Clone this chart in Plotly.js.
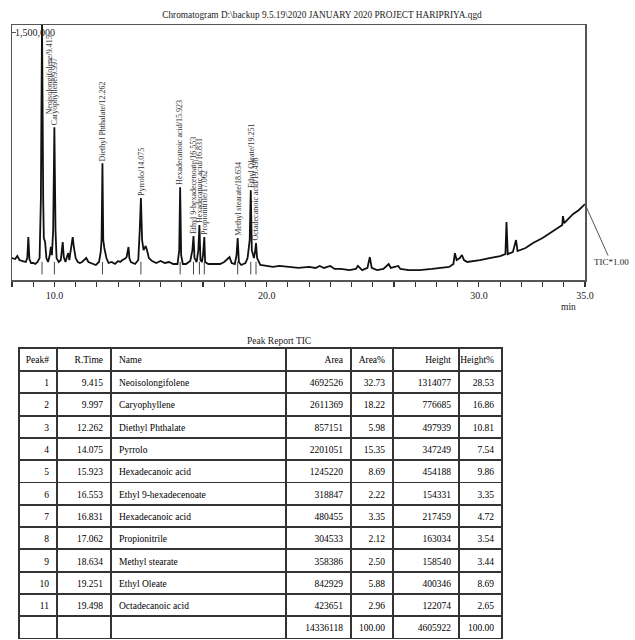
<!DOCTYPE html>
<html>
<head>
<meta charset="utf-8">
<script src="https://cdn.plot.ly/plotly-3.0.1.min.js"></script>
<style>html,body{margin:0;padding:0;background:#fff;}#chart{width:635px;height:640px;}</style>
</head>
<body>
<div id="chart"></div>
<script>
// ---- chromatogram trace (retention time, min / intensity, counts) ----
const ticTime = [
  8.00, 8.15, 8.25, 8.35, 8.50, 8.65, 8.72, 8.77, 8.82, 8.90, 9.00, 9.10, 9.20, 9.30, 9.36, 9.415, 9.47, 9.50, 9.56, 9.62,
  9.70, 9.78, 9.83, 9.88, 9.94, 9.997, 10.05, 10.10, 10.20, 10.30, 10.35, 10.39, 10.44, 10.52, 10.60, 10.65, 10.70, 10.76, 10.81, 10.86,
  10.92, 11.00, 11.10, 11.20, 11.30, 11.45, 11.50, 11.60, 11.80, 11.95, 12.10, 12.18, 12.22, 12.262, 12.30, 12.35, 12.45, 12.55, 12.70, 12.85,
  13.00, 13.10, 13.20, 13.30, 13.40, 13.45, 13.49, 13.53, 13.60, 13.80, 13.95, 14.02, 14.075, 14.13, 14.20, 14.30, 14.35, 14.45, 14.60, 14.80,
  15.00, 15.20, 15.40, 15.60, 15.80, 15.88, 15.923, 15.97, 16.05, 16.20, 16.40, 16.50, 16.553, 16.60, 16.70, 16.78, 16.831, 16.88, 16.95, 17.00,
  17.062, 17.10, 17.25, 17.50, 17.80, 18.00, 18.20, 18.25, 18.35, 18.50, 18.58, 18.634, 18.69, 18.80, 19.00, 19.10, 19.20, 19.251, 19.30, 19.40,
  19.45, 19.498, 19.55, 19.70, 20.00, 20.30, 20.60, 21.00, 21.50, 22.00, 22.30, 22.50, 22.70, 23.00, 23.20, 23.50, 23.90, 24.20, 24.30, 24.50,
  24.75, 24.86, 24.95, 25.20, 25.50, 25.75, 25.85, 26.20, 26.30, 26.70, 27.20, 27.80, 28.30, 28.60, 28.80, 28.87, 28.95, 29.10, 29.20, 29.30,
  29.45, 29.80, 30.05, 30.50, 31.00, 31.25, 31.30, 31.36, 31.60, 31.75, 31.82, 32.20, 32.55, 33.00, 33.35, 33.80, 33.93, 33.96, 34.02, 34.43,
  34.70, 35.00
];
const ticIntensity = [
  133000, 127000, 145000, 121000, 115000, 109000, 133000, 260000, 127000, 103000, 103000, 97000, 109000, 133000, 484000, 1572000, 484000, 254000, 230000, 133000,
  109000, 151000, 200000, 151000, 302000, 925000, 302000, 133000, 109000, 121000, 181000, 230000, 139000, 109000, 145000, 163000, 121000, 181000, 212000, 260000,
  194000, 133000, 109000, 103000, 109000, 127000, 133000, 109000, 97000, 91000, 109000, 169000, 242000, 708000, 242000, 194000, 133000, 103000, 109000, 97000,
  115000, 109000, 121000, 127000, 139000, 181000, 200000, 133000, 109000, 97000, 121000, 302000, 496000, 242000, 181000, 206000, 187000, 133000, 115000, 103000,
  115000, 103000, 109000, 97000, 97000, 181000, 562000, 151000, 97000, 97000, 115000, 181000, 266000, 133000, 109000, 181000, 333000, 121000, 109000, 151000,
  260000, 109000, 97000, 97000, 97000, 109000, 133000, 139000, 103000, 97000, 151000, 254000, 109000, 91000, 103000, 133000, 242000, 544000, 181000, 133000,
  169000, 224000, 133000, 91000, 85000, 79000, 85000, 79000, 73000, 79000, 73000, 85000, 73000, 85000, 67000, 67000, 60000, 67000, 85000, 60000,
  73000, 139000, 73000, 60000, 67000, 97000, 73000, 85000, 67000, 60000, 60000, 67000, 73000, 79000, 97000, 163000, 121000, 133000, 151000, 121000,
  109000, 115000, 121000, 133000, 145000, 157000, 351000, 157000, 169000, 242000, 175000, 194000, 224000, 254000, 284000, 321000, 333000, 387000, 345000, 399000,
  423000, 460000
];

// ---- identified peaks ----
const peakNo = [1, 2, 3, 4, 5, 6, 7, 8, 9, 10, 11];
const peakTime = [9.415, 9.997, 12.262, 14.075, 15.923, 16.553, 16.831, 17.062, 18.634, 19.251, 19.498];
const peakName = ["Neoisolongifolene", "Caryophyllene", "Diethyl Phthalate", "Pyrrolo", "Hexadecanoic acid",
  "Ethyl 9-hexadecenoate", "Hexadecanoic acid", "Propionitrile", "Methyl stearate", "Ethyl Oleate", "Octadecanoic acid"];
const peakApex = [1572000, 925000, 708000, 496000, 562000, 266000, 333000, 260000, 254000, 544000, 224000];
const peakArea = [4692526, 2611369, 857151, 2201051, 1245220, 318847, 480455, 304533, 358386, 842929, 423651];
const peakAreaPct = [32.73, 18.22, 5.98, 15.35, 8.69, 2.22, 3.35, 2.12, 2.50, 5.88, 2.96];
const peakHeight = [1314077, 776685, 497939, 347249, 454188, 154331, 217459, 163034, 158540, 400346, 122074];
const peakHeightPct = [28.53, 16.86, 10.81, 7.54, 9.86, 3.35, 4.72, 3.54, 3.44, 8.69, 2.65];
const totalArea = 14336118, totalAreaPct = 100.00, totalHeight = 4605922, totalHeightPct = 100.00;
// level of the small peak-marker ticks drawn under each identified peak
const peakMarkLevel = 72000;

// ---- axis labels ----
const xTickVals = [10, 20, 30, 35];
const xTickText = ["10.0", "20.0", "30.0", "35.0"];
const yTickVals = [1500000];
const yTickText = ["1,500,000"];
const headers = ["Peak#", "R.Time", "Name", "Area", "Area%", "Height", "Height%"];

const W = 635, H = 640;
const serif = "Liberation Serif, Times New Roman, serif";
const px = (x) => x / W, py = (y) => 1 - y / H;

// every whole minute gets a tick, only the listed ones a label
const allTickVals = [], allTickText = [];
for (let m = 8; m <= 35; m++) {
  allTickVals.push(m);
  const k = xTickVals.indexOf(m);
  allTickText.push(k >= 0 ? xTickText[k] : "");
}

const annotations = [];
// y tick label drawn inside the frame
yTickVals.forEach((v, i) => {
  annotations.push({x: 0, xref: "x domain", y: v, yref: "y", text: yTickText[i], showarrow: false,
    xanchor: "left", yanchor: "middle", xshift: 1,
    font: {family: serif, size: 10, color: "#222"}});
});
peakTime.forEach((t, i) => {
  const txt = peakName[i] + "/" + t.toFixed(3);
  if (i === 0) {
    annotations.push({x: t, xref: "x", y: py(34), yref: "paper", text: txt, textangle: -90,
      xanchor: "center", yanchor: "top", xshift: 7, showarrow: false,
      font: {family: serif, size: 8, color: "#333"}});
  } else {
    annotations.push({x: t, xref: "x", y: peakApex[i], yref: "y", text: txt, textangle: -90,
      xanchor: "center", yanchor: "bottom", showarrow: false,
      font: {family: serif, size: 8, color: "#333"}});
  }
});
annotations.push({x: ticTime[ticTime.length - 1], y: ticIntensity[ticIntensity.length - 1], xref: "x", yref: "y",
  text: "TIC*1.00", showarrow: true, arrowhead: 0, arrowwidth: 1, arrowcolor: "#555", ax: 26, ay: 58,
  font: {family: serif, size: 9, color: "#222"}});
annotations.push({x: px(578), y: py(307), xref: "paper", yref: "paper", text: "min", showarrow: false,
  font: {family: serif, size: 9.5, color: "#222"}});
annotations.push({x: px(279), y: py(341), xref: "paper", yref: "paper", text: "Peak Report TIC", showarrow: false,
  font: {family: serif, size: 9.5, color: "#222"}});

const chromTrace = {
  type: "scatter", mode: "lines", x: ticTime, y: ticIntensity,
  line: {color: "#111", width: 1.8}, hoverinfo: "skip", xaxis: "x", yaxis: "y"
};
const markTrace = {
  type: "scatter", mode: "markers", x: peakTime, y: peakTime.map(() => peakMarkLevel),
  marker: {symbol: "line-ns-open", size: 9, color: "#444", line: {color: "#444", width: 1}},
  hoverinfo: "skip", xaxis: "x", yaxis: "y"
};

const rowPeak = peakNo.map(String).concat([""]);
const rowTime = peakTime.map(v => v.toFixed(3)).concat([""]);
const rowName = peakName.concat([""]);
const rowArea = peakArea.map(String).concat([String(totalArea)]);
const rowAreaPct = peakAreaPct.map(v => v.toFixed(2)).concat([totalAreaPct.toFixed(2)]);
const rowHeight = peakHeight.map(String).concat([String(totalHeight)]);
const rowHeightPct = peakHeightPct.map(v => v.toFixed(2)).concat([totalHeightPct.toFixed(2)]);

const tableTrace = {
  type: "table",
  domain: {x: [px(19), px(502)], y: [0, py(348)]},
  columnwidth: [38, 54, 175, 65, 42, 66, 43],
  header: {
    values: headers,
    align: ["right", "right", "left", "right", "right", "right", "right"],
    height: 23,
    fill: {color: "#fff"},
    line: {color: "#333", width: 1.8},
    font: {family: serif, size: 9.5, color: "#000"}
  },
  cells: {
    values: [rowPeak, rowTime, rowName, rowArea, rowAreaPct, rowHeight, rowHeightPct],
    align: ["right", "right", "left", "right", "right", "right", "right"],
    height: 22.3,
    fill: {color: "#fff"},
    line: {color: "#333", width: 1.8},
    font: {family: serif, size: 9.5, color: "#000"}
  }
};

const layout = {
  width: W, height: H,
  margin: {l: 0, r: 0, t: 0, b: 0},
  paper_bgcolor: "#fff", plot_bgcolor: "#fff",
  showlegend: false,
  title: {text: "Chromatogram D:\\backup 9.5.19\\2020 JANUARY 2020 PROJECT HARIPRIYA.qgd",
    x: px(322), xanchor: "center", xref: "container", y: py(15), yanchor: "middle", yref: "container",
    font: {family: serif, size: 9.3, color: "#222"}},
  xaxis: {
    domain: [px(12), px(585)], range: [8, 35], anchor: "y",
    showgrid: false, zeroline: false, showline: true, mirror: true, linecolor: "#555", linewidth: 1.5,
    tickmode: "array", tickvals: allTickVals, ticktext: allTickText,
    ticks: "outside", ticklen: 5, tickcolor: "#333", tickwidth: 1.2,
    tickfont: {family: serif, size: 10, color: "#222"}
  },
  yaxis: {
    domain: [py(280), py(25)], range: [0, 1545000], anchor: "x",
    showgrid: false, zeroline: false, showline: true, mirror: true, linecolor: "#555", linewidth: 1.5,
    tickmode: "array", tickvals: yTickVals, showticklabels: false,
    ticks: "inside", ticklen: 4, tickcolor: "#555"
  },
  annotations: annotations
};

Plotly.newPlot("chart", [chromTrace, markTrace, tableTrace], layout, {displayModeBar: false, staticPlot: true});
</script>
</body>
</html>
